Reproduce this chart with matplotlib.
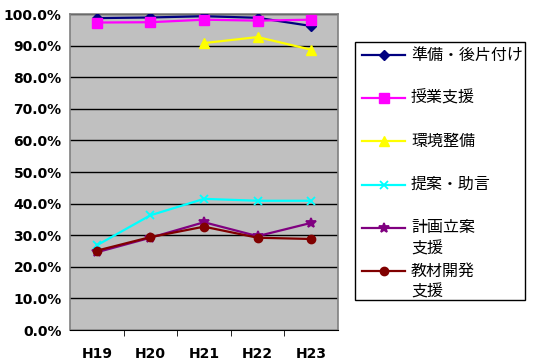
import matplotlib.pyplot as plt
from matplotlib.lines import Line2D
from matplotlib.patches import Rectangle
from matplotlib.ticker import FixedLocator, PercentFormatter

plt.rcParams['font.family'] = ['Noto Sans CJK JP', 'DejaVu Sans']

years = ["H19", "H20", "H21", "H22", "H23"]
junbi = [98.7, 98.9, 99.3, 98.8, 96.2]
jugyo = [97.3, 97.4, 98.2, 97.9, 98.2]
kankyo = [None, None, 90.8, 92.7, 88.7]
teian = [26.8, 36.3, 41.5, 40.9, 40.9]
keikaku = [24.6, 29.2, 34.1, 29.7, 33.9]
kyozai = [25.1, 29.4, 32.7, 29.2, 28.8]

labels = ["準備・後片付け", "授業支援", "環境整備", "提案・助言", "計画立案\n支援", "教材開発\n支援"]
series = [junbi, jugyo, kankyo, teian, keikaku, kyozai]
styles = [
    ("#000080", "D", 5),
    ("#FF00FF", "s", 7),
    ("#FFFF00", "^", 7),
    ("#00FFFF", "x", 6),
    ("#800080", "*", 7),
    ("#800000", "o", 6),
]

W, H = 534, 364
fig = plt.figure(figsize=(W / 100, H / 100), dpi=100)
ax = fig.add_axes([70 / W, 1 - 330 / H, 268 / W, 316 / H])
ax.set_facecolor("#C0C0C0")

x = list(range(len(years)))
for vals, (color, marker, ms) in zip(series, styles):
    xs = [i for i, v in zip(x, vals) if v is not None]
    ys = [v for v in vals if v is not None]
    mew = 1.3 if marker in ("x", "*") else 1
    ax.plot(xs, ys, color=color, lw=1.6, marker=marker, ms=ms,
            mec=color, mfc=color, mew=mew, zorder=3)

ax.set_xlim(-0.5, len(years) - 0.5)
ax.set_ylim(0, 100)
ax.set_yticks(range(0, 101, 10))
ax.yaxis.set_major_formatter(PercentFormatter(decimals=1))
ax.grid(axis="y", color="black", lw=1)
ax.set_axisbelow(True)
ax.set_xticks(x)
ax.set_xticklabels(years)
ax.xaxis.set_minor_locator(FixedLocator([i + 0.5 for i in range(len(years) - 1)]))
ax.tick_params(axis="x", which="major", length=0, pad=12)
ax.tick_params(axis="x", which="minor", length=4, direction="out", color="black")
ax.tick_params(axis="y", length=0, pad=6)
for lab in ax.get_xticklabels() + ax.get_yticklabels():
    lab.set_fontweight("bold")
    lab.set_fontsize(10)
    lab.set_family(["DejaVu Sans"])

for side in ("top", "right", "left"):
    ax.spines[side].set_color("#808080")
    ax.spines[side].set_linewidth(1.2)
ax.spines["bottom"].set_color("black")

# legend drawn by hand: Excel keeps a fixed pitch and lets wrapped text run into the gap
def fx(px):
    return px / W

def fy(py):
    return 1 - py / H

fig.patches.append(Rectangle((fx(355), fy(300)), fx(525) - fx(355), fy(42) - fy(300),
                             transform=fig.transFigure, fill=False, ec="black", lw=1))
for i, (label, (color, marker, ms)) in enumerate(zip(labels, styles)):
    cy = 55 + i * 43.2
    mew = 1.3 if marker in ("x", "*") else 1
    fig.lines.append(Line2D([fx(362), fx(384), fx(405)], [fy(cy)] * 3, transform=fig.transFigure,
                            color=color, lw=1.6, marker=marker, ms=ms, mec=color, mfc=color,
                            mew=mew, markevery=[1]))
    for k, line in enumerate(label.split("\n")):
        fig.text(fx(411), fy(cy + k * 21), line, fontsize=11.5, va="center", ha="left")

fig.savefig("out.png", dpi=100)
